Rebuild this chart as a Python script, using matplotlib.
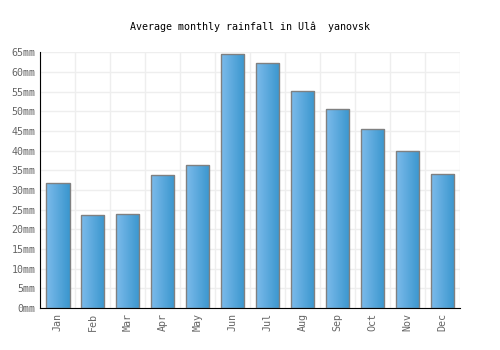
import matplotlib
matplotlib.use("Agg")
import matplotlib.pyplot as plt
import numpy as np
from matplotlib.colors import LinearSegmentedColormap

months = ["Jan", "Feb", "Mar", "Apr", "May", "Jun", "Jul", "Aug", "Sep", "Oct", "Nov", "Dec"]
rainfall = [31.8, 23.6, 23.9, 33.8, 36.4, 64.5, 62.2, 55.1, 50.5, 45.5, 39.9, 34.0]
yticks = list(range(0, 70, 5))
ytick_labels = [f"{v}mm" for v in yticks]
title = "Average monthly rainfall in Ul\u00e2  yanovsk"

mono = ["DejaVu Sans Mono"]

fig = plt.figure(figsize=(5, 3.5), dpi=100)
ax = fig.add_axes([0.0806, 0.12, 0.8394, 0.7306])

x = np.arange(len(months))
bars = ax.bar(x, rainfall, width=0.67, color="none", edgecolor="#808080", linewidth=1.0, zorder=3)

cmap = LinearSegmentedColormap.from_list("g", ["#7cbbeb", "#3a96ce"])
grad = np.linspace(0, 1, 64).reshape(1, -1)
for b in bars:
    x0, y0 = b.get_x(), b.get_y()
    w, h = b.get_width(), b.get_height()
    im = ax.imshow(grad, cmap=cmap, aspect="auto", extent=(x0, x0 + w, y0, y0 + h), zorder=2)
    im.set_clip_path(b)

ax.set_xlim(-0.5, len(months) - 0.5)
ax.set_ylim(0, 65)
ax.set_yticks(yticks)
ax.set_yticklabels(ytick_labels, family=mono, fontsize=7.2, color="#666666")
ax.set_xticks(x)
ax.set_xticklabels(months, family=mono, fontsize=7.2, color="#666666", rotation=90)
ax.set_xticks(np.arange(-0.5, len(months), 1), minor=True)
ax.tick_params(axis="both", which="both", length=0, pad=3.6)
ax.grid(True, axis="y", color="#eeeeee", linewidth=1, zorder=0)
ax.grid(True, axis="x", which="minor", color="#eeeeee", linewidth=1, zorder=0)
ax.grid(False, axis="x", which="major")
ax.set_axisbelow(True)

for s in ["top", "right"]:
    ax.spines[s].set_visible(False)
ax.spines["left"].set_color("black")
ax.spines["bottom"].set_color("black")

fig.text(0.5, 1 - 27 / 350, title, ha="center", va="center", family=mono, fontsize=7.2, color="black")

fig.savefig("out.png", dpi=100)
